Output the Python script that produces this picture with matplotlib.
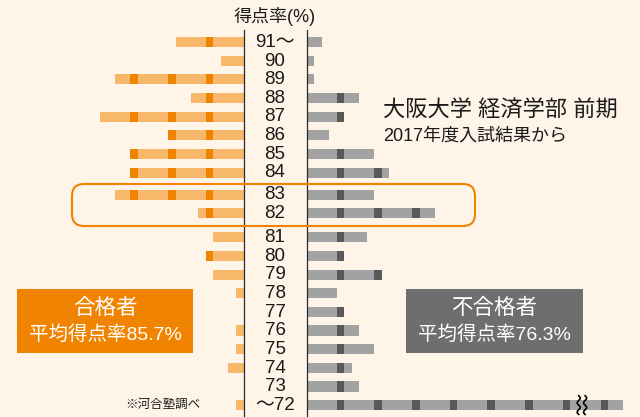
import numpy as np
import matplotlib.pyplot as plt
from matplotlib.patches import FancyBboxPatch, Rectangle

plt.rcParams['font.family'] = ['Liberation Sans', 'Noto Sans CJK JP', 'DejaVu Sans']

# 得点率ごとの人数（左: 合格者, 右: 不合格者）
rows = ['91〜', '90', '89', '88', '87', '86', '85', '84', '83', '82',
        '81', '80', '79', '78', '77', '76', '75', '74', '73', '〜72']
passed = [18, 6, 34, 14, 38, 20, 30, 30, 34, 12, 8, 10, 8, 2, 0, 2, 2, 4, 0, 2]
failed = [4, 2, 2, 14, 10, 6, 18, 22, 18, 34, 16, 10, 20, 8, 10, 14, 18, 12, 14, 84]

BG = '#FEF4E8'
OR_L, OR_D = '#F8B86C', '#F08300'
GR_L, GR_D = '#A2A2A2', '#595959'

UNIT = 3.77      # px per person
ROW = 18.65      # px per row
GAP = 63 / UNIT  # label column width in count units
H = 0.54

# row positions with the extra space around the highlighted 83/82 rows
ypos = np.arange(len(rows), dtype=float)
ypos[8:] += 0.18
ypos[10:] += 0.29

fig = plt.figure(figsize=(6.4, 4.17), dpi=100, facecolor=BG)
ax = fig.add_axes([0, 0, 1, 1], facecolor=BG)
ax.set_xlim(-243.5 / UNIT, (640 - 243.5) / UNIT)
ax.set_ylim((417 - 42) / ROW, -42 / ROW)
ax.axis('off')


def draw_bar(y, n, sign, start, light, dark):
    if n <= 0:
        return
    ax.barh(y, sign * n, left=start, height=H, color=light, lw=0)
    for k in range(10, n + 10, 10):
        if n > k - 2:
            w = min(k, n) - (k - 2)
            ax.barh(y, sign * w, left=start + sign * (k - 2), height=H, color=dark, lw=0)


for y, lab, p, f in zip(ypos, rows, passed, failed):
    draw_bar(y, p, -1, 0, OR_L, OR_D)
    draw_bar(y, f, 1, GAP, GR_L, GR_D)
    ax.text(GAP / 2, y + 0.02, lab, ha='center', va='center', fontsize=13.5, color='#1a1a1a')

# axis lines
top = 1 - 30 / 417
ax.axvline(0, ymin=0, ymax=top, color='#2b2b2b', lw=0.9)
ax.axvline(GAP, ymin=0, ymax=top, color='#2b2b2b', lw=0.9)

# break mark on the long bar
t = np.linspace(-0.5, 0.5, 60)
for xb in (GAP + 72.2, GAP + 73.9):
    ax.plot(xb + 0.4 * np.sin(t * 2 * np.pi / 0.5), ypos[-1] + t, color='black', lw=1.2)

# overlay in pixel coordinates for boxes and captions
ov = fig.add_axes([0, 0, 1, 1], facecolor='none')
ov.set_xlim(0, 640)
ov.set_ylim(417, 0)
ov.axis('off')

ov.add_patch(FancyBboxPatch((72, 184), 403, 42, boxstyle='round,pad=0,rounding_size=12',
                            fc='none', ec=OR_D, lw=1.5))

ov.text(275, 16, '得点率(%)', ha='center', va='center', fontsize=13, color='#1a1a1a')
ov.text(383, 111, '大阪大学 経済学部 前期', ha='left', va='center', fontsize=16, color='#1a1a1a')
ov.text(383, 136, '2017年度入試結果から', ha='left', va='center', fontsize=13, color='#1a1a1a')

ov.add_patch(Rectangle((17, 289), 176, 64, fc=OR_D, lw=0))
ov.text(105, 308, '合格者', ha='center', va='center', fontsize=15.5, color='white')
ov.text(105, 335, '平均得点率85.7%', ha='center', va='center', fontsize=14, color='white')

ov.add_patch(Rectangle((406, 289), 177, 64, fc='#6E6E6E', lw=0))
ov.text(494.5, 308, '不合格者', ha='center', va='center', fontsize=15.5, color='white')
ov.text(494.5, 335, '平均得点率76.3%', ha='center', va='center', fontsize=14, color='white')

ov.text(200, 405, '※河合塾調べ', ha='right', va='center', fontsize=9, color='#1a1a1a')

fig.savefig('out.png', dpi=100, facecolor=BG)
